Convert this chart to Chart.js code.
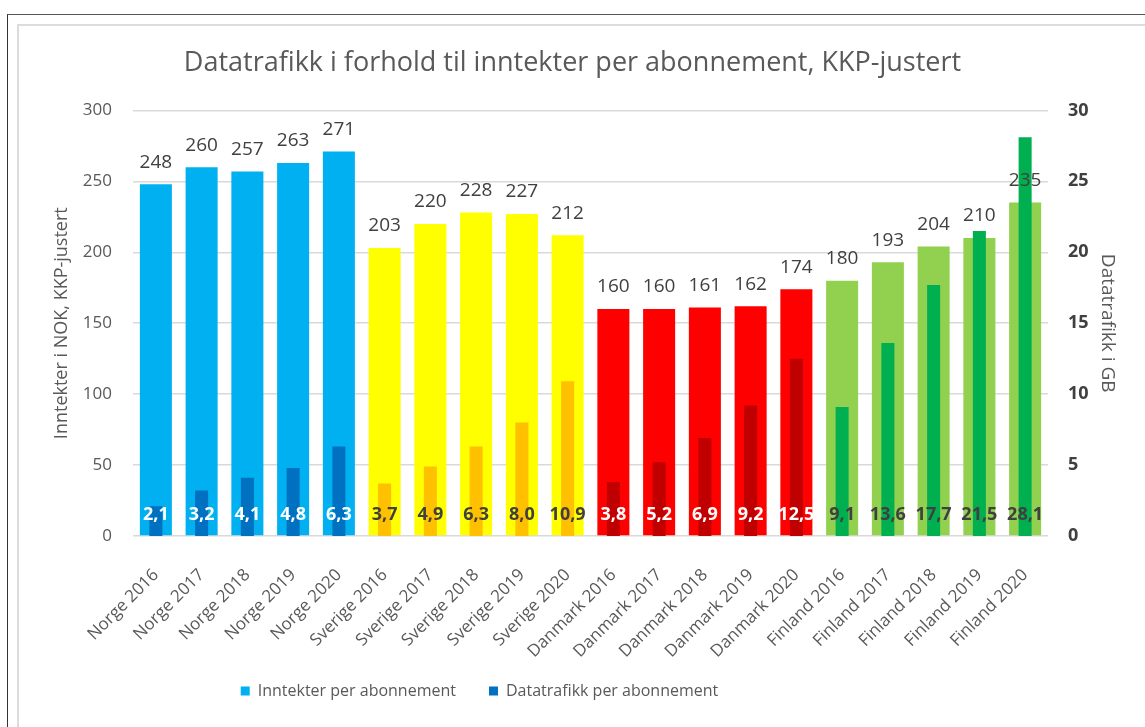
<!DOCTYPE html>
<html>
<head>
<meta charset="utf-8">
<script src="https://cdn.jsdelivr.net/npm/chart.js@4.4.0/dist/chart.umd.min.js"></script>
<style>
    html, body { margin: 0; padding: 0; background: #fff; overflow: hidden; }
    #wrap { position: relative; width: 1145px; height: 727px; }
    .frame-outer { position: absolute; left: 7px; top: 14px; width: 1300px; height: 900px; border-left: 1.5px solid #333; border-top: 1.5px solid #555; }
    .frame-inner { position: absolute; left: 17px; top: 24px; width: 1300px; height: 900px; border-left: 2px solid #dcdcdc; border-top: 2px solid #dcdcdc; }
    canvas { position: absolute; left: 0; top: 0; }
</style>
</head>
<body>
<div id="wrap">
    <div class="frame-outer"></div>
    <div class="frame-inner"></div>
    <canvas id="trafikkChart" width="1145" height="727"></canvas>
</div>
<script>
// ========== DATA ==========
const categories = [
    'Norge 2016', 'Norge 2017', 'Norge 2018', 'Norge 2019', 'Norge 2020',
    'Sverige 2016', 'Sverige 2017', 'Sverige 2018', 'Sverige 2019', 'Sverige 2020',
    'Danmark 2016', 'Danmark 2017', 'Danmark 2018', 'Danmark 2019', 'Danmark 2020',
    'Finland 2016', 'Finland 2017', 'Finland 2018', 'Finland 2019', 'Finland 2020'
];
const countryOf = ['Norge', 'Norge', 'Norge', 'Norge', 'Norge',
    'Sverige', 'Sverige', 'Sverige', 'Sverige', 'Sverige',
    'Danmark', 'Danmark', 'Danmark', 'Danmark', 'Danmark',
    'Finland', 'Finland', 'Finland', 'Finland', 'Finland'];

// Inntekter per abonnement (NOK, KKP-justert) - venstre akse
const inntekter = [248, 260, 257, 263, 271, 203, 220, 228, 227, 212, 160, 160, 161, 162, 174, 180, 193, 204, 210, 235];
// Datatrafikk per abonnement (GB) - høyre akse
const datatrafikk = [2.1, 3.2, 4.1, 4.8, 6.3, 3.7, 4.9, 6.3, 8.0, 10.9, 3.8, 5.2, 6.9, 9.2, 12.5, 9.1, 13.6, 17.7, 21.5, 28.1];

const leftTicks = [0, 50, 100, 150, 200, 250, 300];
const rightTicks = [0, 5, 10, 15, 20, 25, 30];

const inntektFarger = { Norge: '#00B0F0', Sverige: '#FFFF00', Danmark: '#FF0000', Finland: '#92D050' };
const trafikkFarger = { Norge: '#0070C0', Sverige: '#FFC000', Danmark: '#C00000', Finland: '#00B050' };
const trafikkTekst = { Norge: '#ffffff', Sverige: '#404040', Danmark: '#ffffff', Finland: '#404040' };

Chart.defaults.font.family = '"Open Sans", sans-serif';
Chart.defaults.color = '#595959';

// verdier over og nederst i søylene
const verdiEtiketter = {
    id: 'verdiEtiketter',
    afterDatasetsDraw(chart) {
        const ctx = chart.ctx;
        ctx.save();
        ctx.textAlign = 'center';
        ctx.textBaseline = 'middle';
        chart.getDatasetMeta(0).data.forEach((bar, i) => {
            ctx.font = '19px "Open Sans"';
            ctx.fillStyle = '#404040';
            ctx.fillText(String(inntekter[i]), bar.x, bar.y - 22);
        });
        chart.getDatasetMeta(1).data.forEach((bar, i) => {
            ctx.font = 'bold 18px "Open Sans"';
            ctx.fillStyle = trafikkTekst[countryOf[i]];
            ctx.fillText(datatrafikk[i].toFixed(1).replace('.', ','), bar.x, bar.base - 21);
        });
        ctx.restore();
    }
};

// forklaringen står litt til venstre for midten i originalen
const flyttForklaring = {
    id: 'flyttForklaring',
    afterLayout(chart) {
        const lg = chart.legend;
        lg.left -= 93;
        lg.right -= 93;
        lg.top -= 18;
        lg.bottom -= 18;
    }
};

const ctx = document.getElementById('trafikkChart').getContext('2d');
const trafikkChart = new Chart(ctx, {
    type: 'bar',
    data: {
        labels: categories,
        datasets: [{
            label: 'Inntekter per abonnement',
            data: inntekter,
            yAxisID: 'y',
            backgroundColor: countryOf.map(c => inntektFarger[c]),
            grouped: false,
            barPercentage: 0.70,
            categoryPercentage: 1,
            order: 1
        }, {
            label: 'Datatrafikk per abonnement',
            data: datatrafikk,
            yAxisID: 'y1',
            backgroundColor: countryOf.map(c => trafikkFarger[c]),
            grouped: false,
            barPercentage: 0.285,
            categoryPercentage: 1,
            order: 0
        }]
    },
    options: {
        responsive: false,
        animation: false,
        devicePixelRatio: 1,
        layout: { padding: { left: 0, right: 0, top: 0, bottom: 0 } },
        plugins: {
            title: {
                display: true,
                text: 'Datatrafikk i forhold til inntekter per abonnement, KKP-justert',
                color: '#595959',
                font: { size: 27, weight: 'normal' },
                padding: { top: 47, bottom: 31 }
            },
            legend: {
                position: 'bottom',
                labels: {
                    boxWidth: 9,
                    boxHeight: 9,
                    padding: 33,
                    color: '#595959',
                    font: { size: 16 },
                    sort: (a, b) => a.datasetIndex - b.datasetIndex,
                    generateLabels: (chart) => {
                        const items = Chart.defaults.plugins.legend.labels.generateLabels(chart);
                        const farger = ['#00B0F0', '#0070C0'];
                        items.forEach(it => {
                            it.fillStyle = farger[it.datasetIndex];
                            it.strokeStyle = farger[it.datasetIndex];
                            it.lineWidth = 0;
                        });
                        return items;
                    }
                }
            },
            tooltip: { enabled: false }
        },
        scales: {
            x: {
                grid: { display: false, drawTicks: false },
                border: { display: false },
                ticks: {
                    autoSkip: false,
                    maxRotation: 45,
                    minRotation: 45,
                    color: '#595959',
                    font: { size: 17 },
                    padding: 29
                },
                afterFit: (scale) => { scale.height = 132; }
            },
            y: {
                position: 'left',
                min: 0,
                max: 300,
                afterBuildTicks: (scale) => { scale.ticks = leftTicks.map(v => ({ value: v })); },
                ticks: { color: '#595959', font: { size: 17 }, padding: 21 },
                grid: { color: '#d9d9d9', lineWidth: 1.5, drawTicks: false },
                border: { display: false },
                title: {
                    display: true,
                    text: 'Inntekter i NOK, KKP-justert',
                    color: '#595959',
                    font: { size: 18 },
                    padding: { top: 51, bottom: 0 }
                },
                afterFit: (scale) => { scale.width = 133; }
            },
            y1: {
                position: 'right',
                min: 0,
                max: 30,
                afterBuildTicks: (scale) => { scale.ticks = rightTicks.map(v => ({ value: v })); },
                ticks: { color: '#404040', font: { size: 18, weight: 'bold' }, padding: 20 },
                grid: { display: false, drawTicks: false },
                border: { display: false },
                title: {
                    display: true,
                    text: 'Datatrafikk i GB',
                    color: '#595959',
                    font: { size: 19 },
                    padding: { top: 26, bottom: 0 }
                },
                afterFit: (scale) => { scale.width = 97; }
            }
        }
    },
    plugins: [verdiEtiketter, flyttForklaring]
});
</script>
</body>
</html>
